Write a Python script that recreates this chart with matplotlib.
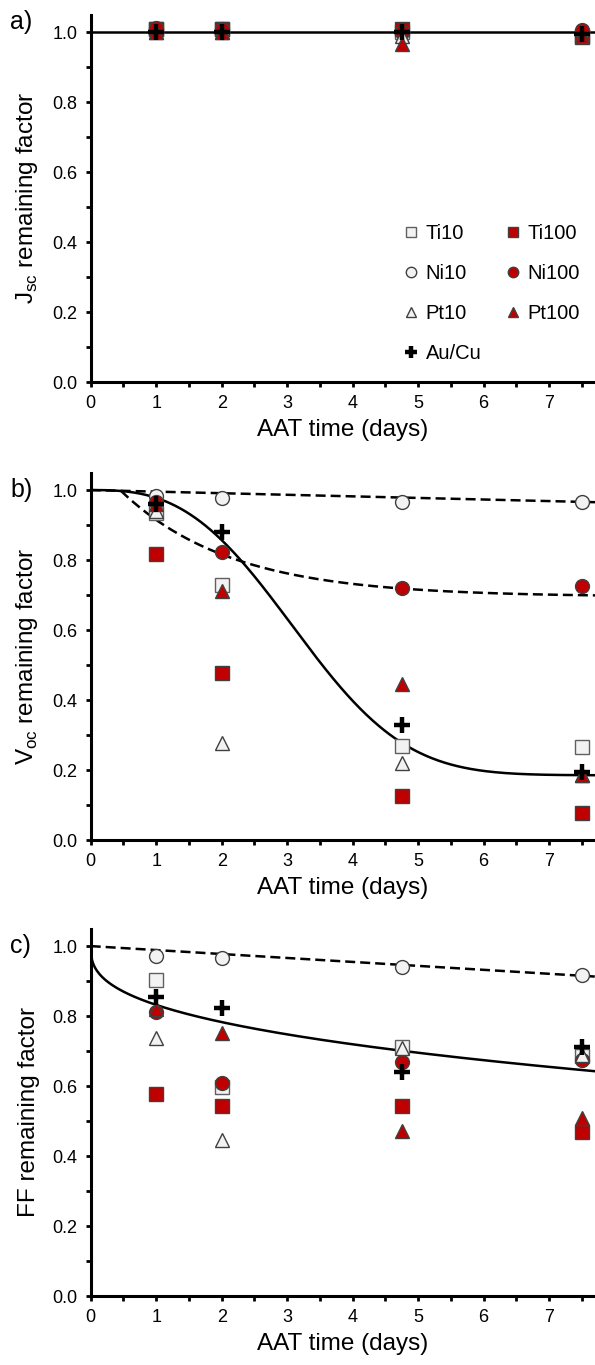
import matplotlib
matplotlib.use('Agg')
import matplotlib.pyplot as plt
import numpy as np
from matplotlib.ticker import MultipleLocator, FormatStrFormatter

plt.rcParams['font.family'] = ['Liberation Sans', 'DejaVu Sans']
plt.rcParams['mathtext.fontset'] = 'custom'
plt.rcParams['mathtext.rm'] = 'Liberation Sans'

# AAT time points (days)
days = [1, 2, 4.75, 7.5]

# a) Jsc remaining factor
jsc_ti10 = [1.01, 1.01, 1.00, 0.99]
jsc_ti100 = [1.01, 1.01, 1.01, 0.987]
jsc_ni10 = [1.01, 1.00, 1.00, 1.00]
jsc_ni100 = [1.012, 1.01, 1.00, 1.005]
jsc_pt10 = [1.00, 1.00, 0.99, 0.99]
jsc_pt100 = [1.00, 1.00, 0.965, 0.99]
jsc_aucu = [1.00, 1.00, 1.00, 0.995]

# b) Voc remaining factor
voc_ti10 = [0.934, 0.729, 0.270, 0.265]
voc_ti100 = [0.817, 0.478, 0.125, 0.077]
voc_ni10 = [0.983, 0.977, 0.966, 0.966]
voc_ni100 = [0.965, 0.823, 0.721, 0.726]
voc_pt10 = [0.940, 0.276, 0.219, 0.185]
voc_pt100 = [0.960, 0.712, 0.447, 0.185]
voc_aucu = [0.960, 0.880, 0.328, 0.194]

# c) FF remaining factor
ff_ti10 = [0.902, 0.598, 0.712, 0.687]
ff_ti100 = [0.577, 0.544, 0.544, 0.468]
ff_ni10 = [0.973, 0.967, 0.941, 0.917]
ff_ni100 = [0.813, 0.608, 0.670, 0.674]
ff_pt10 = [0.736, 0.447, 0.710, 0.690]
ff_pt100 = [0.820, 0.751, 0.473, 0.509]
ff_aucu = [0.855, 0.822, 0.639, 0.712]

labels = ['Ti10', 'Ti100', 'Ni10', 'Ni100', 'Pt10', 'Pt100', 'Au/Cu']

# fit curves (parameters)
voc_ni10_slope = -0.0045
voc_ni100_fit = (0.695, 0.45, 1.68)        # plateau, onset, tau
voc_aucu_fit = (0.185, 3.6, 2.8)           # plateau, tau, beta
ff_ni10_slope = -0.0113
ff_aucu_fit = (0.168, 0.37)                # a, b in 1 - a*t^b

RED = '#c00000'
GREY = '#f2f2f2'
styles = [
    dict(marker='s', mfc=GREY, mec='#606060', ms=9.5),
    dict(marker='s', mfc=RED, mec='#404040', ms=9.5),
    dict(marker='o', mfc=GREY, mec='#404040', ms=10),
    dict(marker='o', mfc=RED, mec='#404040', ms=10),
    dict(marker='^', mfc=GREY, mec='#404040', ms=10.5),
    dict(marker='^', mfc=RED, mec='#404040', ms=10.5),
    dict(marker='+', mfc='black', mec='black', ms=12, mew=3.2),
]

fig = plt.figure(figsize=(5.95, 13.65), dpi=100)
left, width = 0.1524, 1 - 0.1524
ax_a = fig.add_axes([left, 0.7201, width, 0.2692])
ax_b = fig.add_axes([left, 0.3846, width, 0.2692])
ax_c = fig.add_axes([left, 0.0505, width, 0.2692])


def style_axis(ax, ylabel):
    ax.set_xlim(0, 7.7)
    ax.set_ylim(0, 1.05)
    ax.xaxis.set_major_locator(MultipleLocator(1))
    ax.xaxis.set_minor_locator(MultipleLocator(0.5))
    ax.yaxis.set_major_locator(MultipleLocator(0.2))
    ax.yaxis.set_minor_locator(MultipleLocator(0.1))
    ax.yaxis.set_major_formatter(FormatStrFormatter('%.1f'))
    ax.spines['top'].set_visible(False)
    ax.spines['right'].set_visible(False)
    for s in ('left', 'bottom'):
        ax.spines[s].set_linewidth(2.2)
    ax.tick_params(which='both', direction='out', length=3.5, width=2,
                   labelsize=13, pad=6)
    ax.set_xlabel('AAT time (days)', fontsize=17.5)
    ax.xaxis.set_label_coords(0.5, -0.1)
    ax.set_ylabel(ylabel, fontsize=17.5)
    ax.yaxis.set_label_coords(-0.1, 0.5)


def draw_points(ax, series):
    handles = []
    for vals, st, lab in zip(series, styles, labels):
        h, = ax.plot(days, vals, linestyle='none', markeredgewidth=st.get('mew', 1),
                     marker=st['marker'], markerfacecolor=st['mfc'],
                     markeredgecolor=st['mec'], markersize=st['ms'],
                     label=lab, zorder=3, clip_on=False)
        handles.append(h)
    return handles


dash = dict(color='black', lw=1.8, dashes=(4, 2), zorder=2)
solid = dict(color='black', lw=1.8, zorder=2)

# a)
ax_a.axhline(1.0, **solid)
hs = draw_points(ax_a, [jsc_ti10, jsc_ti100, jsc_ni10, jsc_ni100,
                        jsc_pt10, jsc_pt100, jsc_aucu])
style_axis(ax_a, 'J$_{\\mathrm{sc}}$ remaining factor')
order = [0, 2, 4, 6, 1, 3, 5]
ax_a.legend([hs[i] for i in order], [labels[i] for i in order], ncol=2,
            loc='upper left', bbox_to_anchor=(0.62, 0.43), frameon=False,
            fontsize=14.5, markerscale=0.75, handlelength=0.8,
            handletextpad=0.3, columnspacing=1.2, labelspacing=1.05,
            borderaxespad=0, borderpad=0)

# b)
t = np.linspace(0, 7.7, 400)
ax_b.plot(t, 1 + voc_ni10_slope * t, **dash)
p, t0, tau = voc_ni100_fit
tb = t[t >= t0]
ax_b.plot(tb, p + (1 - p) * np.exp(-(tb - t0) / tau), **dash)
p, tau, beta = voc_aucu_fit
ax_b.plot(t, p + (1 - p) * np.exp(-(t / tau) ** beta), **solid)
draw_points(ax_b, [voc_ti10, voc_ti100, voc_ni10, voc_ni100,
                   voc_pt10, voc_pt100, voc_aucu])
style_axis(ax_b, 'V$_{\\mathrm{oc}}$ remaining factor')

# c)
ax_c.plot(t, 1 + ff_ni10_slope * t, **dash)
a, b = ff_aucu_fit
ax_c.plot(t, 1 - a * t ** b, **solid)
draw_points(ax_c, [ff_ti10, ff_ti100, ff_ni10, ff_ni100,
                   ff_pt10, ff_pt100, ff_aucu])
style_axis(ax_c, 'FF remaining factor')

for lab, y in (('a)', 22), ('b)', 490), ('c)', 946)):
    fig.text(10 / 595, 1 - y / 1365, lab, fontsize=18, va='center', ha='left')

fig.savefig('out.png', dpi=100)
